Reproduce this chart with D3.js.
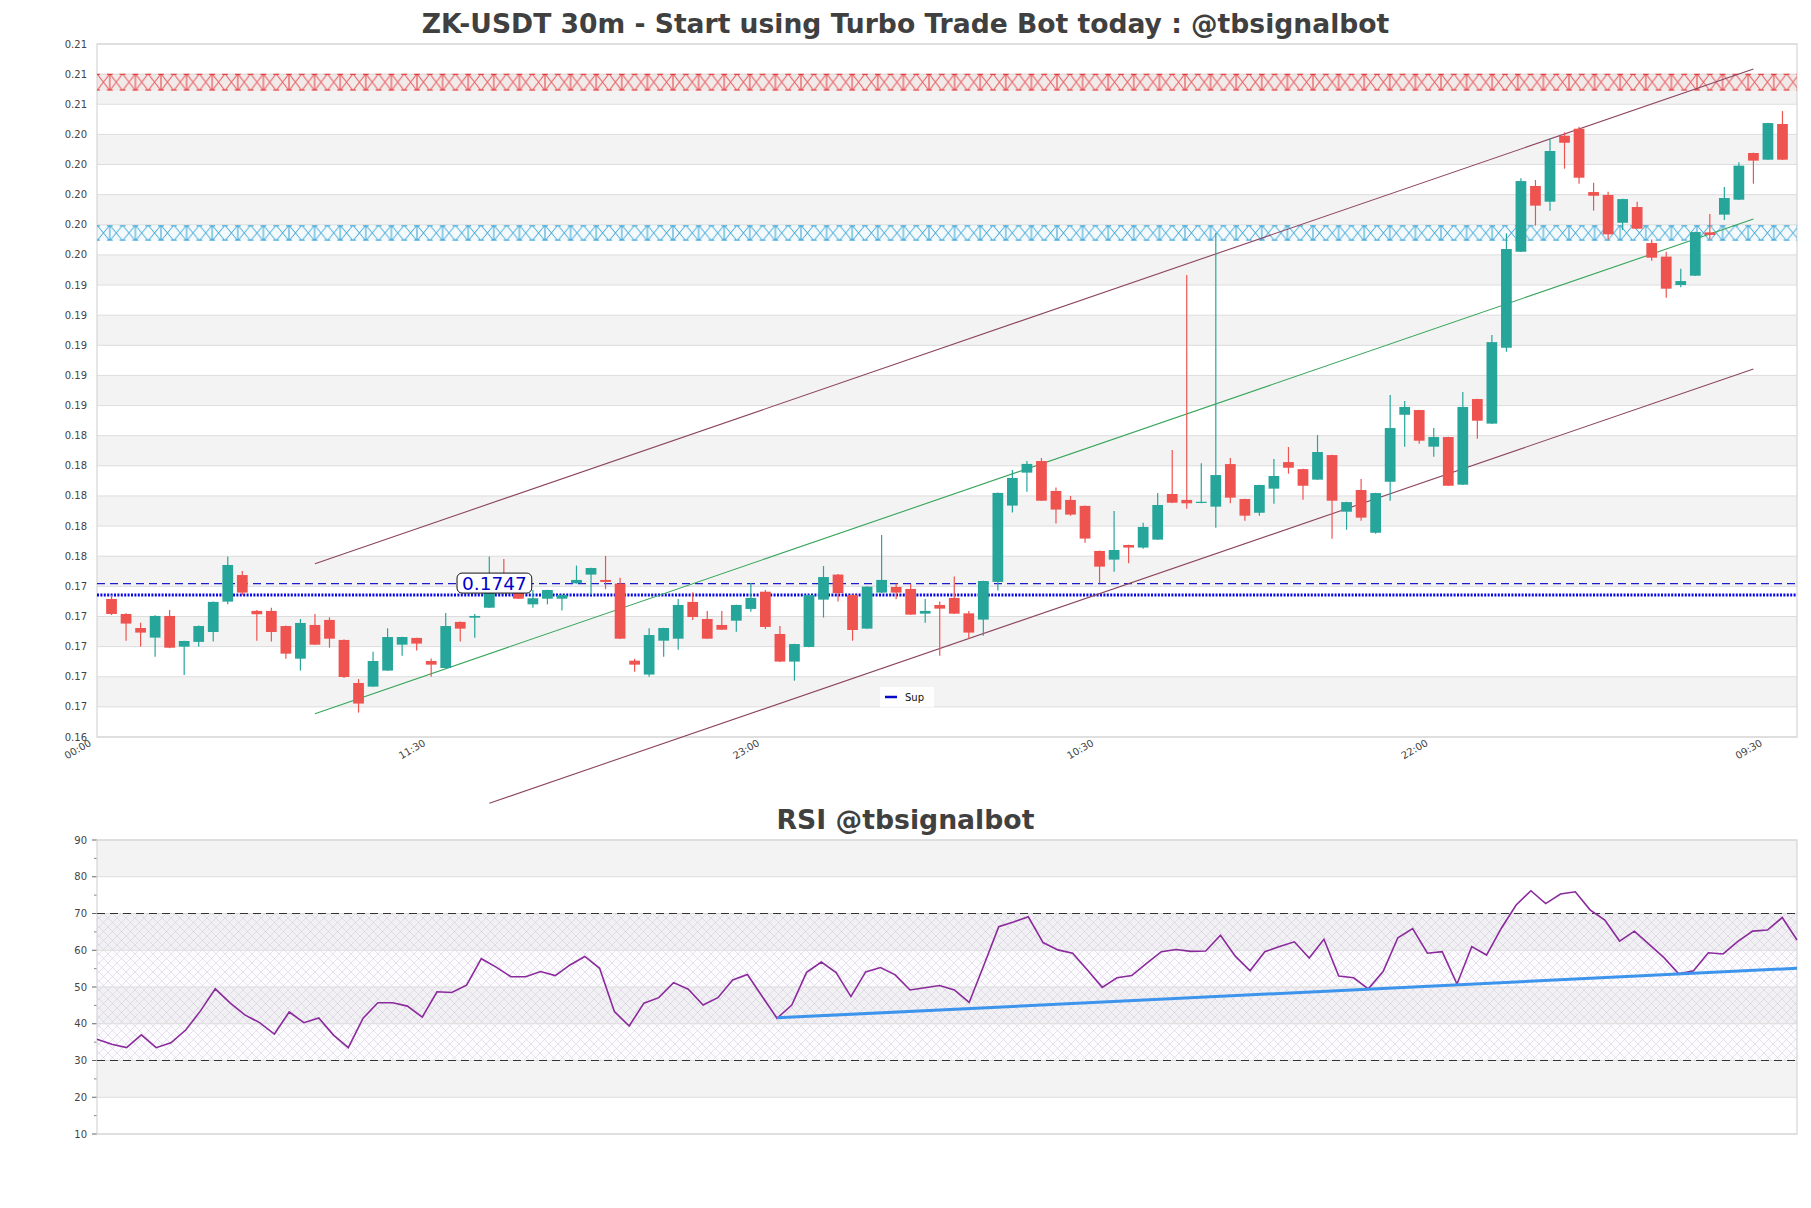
<!DOCTYPE html>
<html><head><meta charset="utf-8">
<script src="https://cdn.jsdelivr.net/npm/d3@7"></script>
<style>body{margin:0;background:#fff} svg{display:block} text{font-family:"DejaVu Sans",sans-serif}</style>
</head><body><svg id="c" width="1811" height="1208"></svg>
<script>
// ---------- DATA ----------
const titleText = "ZK-USDT 30m - Start using Turbo Trade Bot today : @tbsignalbot";
const rsiTitleText = "RSI @tbsignalbot";
const xTickLabels = ["00:00","11:30","23:00","10:30","22:00","09:30"];
const xTickIndex = [-1,22,45,68,91,114];
const yTickLabels = ["0.16","0.17","0.17","0.17","0.17","0.17","0.18","0.18","0.18","0.18","0.18",
  "0.19","0.19","0.19","0.19","0.19","0.20","0.20","0.20","0.20","0.20","0.21","0.21","0.21"];
const yMin = 0.16465, yMax = 0.21005;
const rsiTickLabels = [10,20,30,40,50,60,70,80,90];

const openP = [0.17369,0.17271,0.17179,0.17116,0.17258,0.17057,0.17088,0.17153,0.17352,0.17526,
0.17291,0.17291,0.17192,0.16978,0.17199,0.17232,0.17101,0.16819,0.16795,0.16900,
0.17070,0.17114,0.16963,0.16917,0.17219,0.17247,0.17312,0.17446,0.17428,0.17334,
0.17371,0.17371,0.17472,0.17529,0.17494,0.17470,0.16965,0.16874,0.17096,0.17109,
0.17350,0.17238,0.17199,0.17227,0.17304,0.17417,0.17140,0.16959,0.17055,0.17365,
0.17529,0.17395,0.17175,0.17411,0.17448,0.17435,0.17273,0.17330,0.17376,0.17275,
0.17234,0.17481,0.17981,0.18197,0.18273,0.18077,0.18018,0.17979,0.17684,0.17627,
0.17723,0.17706,0.17758,0.18057,0.18018,0.18000,0.17974,0.18253,0.18024,0.17934,
0.18092,0.18266,0.18220,0.18151,0.18312,0.17941,0.18083,0.17803,0.18137,0.18576,
0.18607,0.18367,0.18430,0.18118,0.18679,0.18518,0.19015,0.19644,0.20075,0.19972,
0.20404,0.20450,0.20035,0.20016,0.19834,0.19937,0.19701,0.19612,0.19426,0.19487,
0.19771,0.19887,0.19985,0.20291,0.20247,0.20481];
const highP = [0.17395,0.17275,0.17214,0.17262,0.17297,0.17096,0.17195,0.17352,0.17647,0.17553,
0.17297,0.17312,0.17195,0.17238,0.17271,0.17249,0.17103,0.16845,0.17024,0.17177,
0.17122,0.17116,0.16980,0.17278,0.17221,0.17271,0.17647,0.17631,0.17450,0.17428,
0.17430,0.17397,0.17588,0.17574,0.17651,0.17509,0.16978,0.17177,0.17181,0.17369,
0.17411,0.17291,0.17291,0.17332,0.17474,0.17428,0.17192,0.17076,0.17397,0.17585,
0.17533,0.17397,0.17452,0.17789,0.17470,0.17468,0.17369,0.17352,0.17516,0.17291,
0.17489,0.18066,0.18214,0.18273,0.18293,0.18099,0.18044,0.17981,0.17686,0.17946,
0.17725,0.17869,0.18064,0.18345,0.19492,0.18258,0.19767,0.18293,0.18026,0.18118,
0.18286,0.18365,0.18222,0.18443,0.18314,0.18006,0.18155,0.18065,0.18705,0.18666,
0.18609,0.18489,0.18432,0.18725,0.18681,0.19098,0.19764,0.20125,0.20114,0.20387,
0.20426,0.20463,0.20096,0.20037,0.19991,0.19972,0.19725,0.19644,0.19533,0.19775,
0.19891,0.20068,0.20230,0.20293,0.20489,0.20566];
const lowP = [0.17264,0.17096,0.17057,0.16991,0.17046,0.16871,0.17057,0.17090,0.17334,0.17395,
0.17096,0.17090,0.16978,0.16900,0.17068,0.17050,0.16852,0.16625,0.16793,0.16898,
0.16998,0.17031,0.16860,0.16915,0.17090,0.17116,0.17310,0.17420,0.17369,0.17312,
0.17334,0.17293,0.17470,0.17395,0.17433,0.17107,0.16893,0.16860,0.16991,0.17037,
0.17232,0.17107,0.17166,0.17155,0.17286,0.17173,0.16957,0.16834,0.17053,0.17247,
0.17352,0.17096,0.17173,0.17409,0.17367,0.17265,0.17214,0.16998,0.17271,0.17109,
0.17129,0.17424,0.17935,0.18072,0.18011,0.17863,0.17915,0.17738,0.17472,0.17548,
0.17603,0.17699,0.17756,0.17998,0.17961,0.17996,0.17836,0.17996,0.17882,0.17915,
0.17993,0.18190,0.18020,0.18149,0.17764,0.17823,0.17882,0.17797,0.18013,0.18367,
0.18386,0.18301,0.18109,0.18116,0.18419,0.18516,0.18989,0.19642,0.19815,0.19913,
0.20188,0.20090,0.19913,0.19725,0.19786,0.19793,0.19585,0.19343,0.19411,0.19485,
0.19725,0.19852,0.19983,0.20090,0.20245,0.20245];
const closeP = [0.17271,0.17208,0.17149,0.17258,0.17050,0.17094,0.17192,0.17350,0.17592,0.17411,
0.17269,0.17153,0.17011,0.17212,0.17070,0.17109,0.16858,0.16684,0.16963,0.17120,
0.17120,0.17077,0.16939,0.17192,0.17175,0.17258,0.17428,0.17428,0.17371,0.17374,
0.17428,0.17395,0.17494,0.17572,0.17481,0.17109,0.16939,0.17133,0.17179,0.17330,
0.17251,0.17109,0.17168,0.17330,0.17376,0.17186,0.16959,0.17074,0.17395,0.17513,
0.17408,0.17166,0.17450,0.17494,0.17411,0.17267,0.17291,0.17306,0.17273,0.17149,
0.17487,0.18064,0.18162,0.18254,0.18013,0.17955,0.17922,0.17765,0.17581,0.17690,
0.17706,0.17841,0.17985,0.18000,0.17996,0.18006,0.18181,0.18033,0.17915,0.18116,
0.18175,0.18229,0.18111,0.18332,0.18013,0.18004,0.17902,0.18063,0.18489,0.18627,
0.18406,0.18430,0.18111,0.18627,0.18537,0.19052,0.19662,0.20107,0.19946,0.20304,
0.20358,0.20129,0.20011,0.19758,0.19989,0.19795,0.19605,0.19402,0.19452,0.19773,
0.19754,0.19996,0.20208,0.20241,0.20487,0.20247];

const rsiValues = [35.8,34.4,33.5,37.0,33.5,34.8,38.3,43.5,49.5,45.7,
42.4,40.3,37.2,43.2,40.3,41.6,36.9,33.5,41.5,45.7,
45.7,44.8,41.8,48.7,48.5,50.5,57.7,55.4,52.8,52.8,
54.2,53.1,56.0,58.3,55.1,43.3,39.4,45.6,47.1,51.2,
49.4,45.1,47.1,51.9,53.4,47.4,41.5,45.1,54.0,56.8,
53.9,47.4,54.1,55.3,53.3,49.2,49.8,50.4,49.2,45.8,
56.0,66.4,67.7,69.1,62.1,60.1,59.2,54.6,49.9,52.5,
53.1,56.4,59.6,60.2,59.7,59.8,64.1,58.4,54.4,59.6,
61.0,62.3,57.9,63.0,53.0,52.5,49.5,54.2,63.4,65.9,
59.2,59.6,50.8,61.0,58.7,66.0,72.3,76.2,72.7,75.3,
75.9,71.0,68.2,62.5,65.2,61.6,58.0,53.6,54.4,59.3,
59.0,62.4,65.2,65.5,68.9,62.8];

const resistanceZone = [0.2070, 0.2081];
const supportZone = [0.19717, 0.19817];
const supDashed = 0.1747;
const supDotted = 0.17395;
const supLabelIndex = 26.35;
const legendLabels = ["Sup"];
const channelUpper = [[14, 0.17600],[113, 0.20841]];
const channelMid   = [[14, 0.16618],[113, 0.19858]];
const channelLower = [[26, 0.16031],[113, 0.18876]];
const rsiTrend = [[46, 41.6],[115, 55.1]];
const rsiLevels = [30, 70];

// ---------- DRAW ----------
const svg = d3.select("#c");
svg.append("rect").attr("width",1811).attr("height",1208).attr("fill","#fff");
const n = openP.length;
const M = {l:97, r:1797, t:44, b:737};
const R = {l:97, r:1797, t:840, b:1134};
const x = d3.scaleLinear().domain([-1, n]).range([M.l, M.r]);
const y = d3.scaleLinear().domain([yMin, yMax]).range([M.b, M.t]);
const xr = d3.scaleLinear().domain([0, n-1]).range([R.l, R.r]);
const yr = d3.scaleLinear().domain([10, 90]).range([R.b, R.t]);

const defs = svg.append("defs");
function zonePattern(id, color, top, h){
  const w = 25.6, hw = w/2;
  const p = defs.append("pattern").attr("id",id).attr("patternUnits","userSpaceOnUse")
    .attr("x",M.l).attr("y",top).attr("width",w).attr("height",h);
  p.append("rect").attr("width",w).attr("height",h).attr("fill",color).attr("fill-opacity",0.05);
  p.append("path").attr("d",`M0,0L${hw},${h}M${hw},0L0,${h}M${hw},0L${w},${h}M${w},0L${hw},${h}`)
    .attr("stroke",color).attr("stroke-width",0.9).attr("fill","none");
  p.append("path").attr("d",`M${hw},0V${h}M${hw-3},0.5H${hw+3}M${hw-3},${h-0.5}H${hw+3}M0,0.5H3M${w-3},0.5H${w}M0,${h-0.5}H3M${w-3},${h-0.5}H${w}`)
    .attr("stroke",color).attr("stroke-width",0.9).attr("fill","none");
}
const rp = defs.append("pattern").attr("id","rsiHatch").attr("patternUnits","userSpaceOnUse")
  .attr("width",9).attr("height",9);
rp.append("path").attr("d","M0,0L9,9M9,0L0,9").attr("stroke","#c8b6d6").attr("stroke-width",0.6).attr("stroke-opacity",0.7);

// main bands
const yTicks = d3.range(yTickLabels.length).map(i => yMin + i*(yMax-yMin)/(yTickLabels.length-1));
const gMain = svg.append("g");
for (let k=0;k<yTicks.length-1;k++){
  if (k%2===1) gMain.append("rect").attr("x",M.l).attr("width",M.r-M.l)
    .attr("y",y(yTicks[k+1])).attr("height",y(yTicks[k])-y(yTicks[k+1])).attr("fill","#f3f3f3");
}
yTicks.forEach((v,i)=>{
  gMain.append("line").attr("x1",M.l).attr("x2",M.r).attr("y1",y(v)).attr("y2",y(v))
    .attr("stroke","#dddddd").attr("stroke-width",1);
  gMain.append("text").attr("x",M.l-10).attr("y",y(v)).attr("dy","0.35em").attr("text-anchor","end")
    .attr("font-size",10).attr("fill","#444").text(yTickLabels[i]);
});
gMain.append("rect").attr("x",M.l).attr("y",M.t).attr("width",M.r-M.l).attr("height",M.b-M.t)
  .attr("fill","none").attr("stroke","#d6d6d6").attr("stroke-width",1.2);

// zones
[[resistanceZone,"#e3262a","zr"],[supportZone,"#1e96cf","zs"]].forEach(([z,c,id])=>{
  const top = y(z[1]), h = y(z[0]) - y(z[1]);
  zonePattern(id,c,top,h);
  gMain.append("rect").attr("x",M.l).attr("width",M.r-M.l).attr("y",top).attr("height",h)
    .attr("fill",`url(#${id})`);
});

// x tick labels
xTickIndex.forEach((ix,i)=>{
  gMain.append("text").attr("text-anchor","end").attr("font-size",10).attr("fill","#444")
    .attr("transform",`translate(${x(ix)-5},${M.b+8}) rotate(-30)`).text(xTickLabels[i]);
});

// support lines
gMain.append("line").attr("x1",M.l).attr("x2",M.r).attr("y1",y(supDashed)).attr("y2",y(supDashed))
  .attr("stroke","#1c1ccc").attr("stroke-width",1.4).attr("stroke-dasharray","8,5");
gMain.append("line").attr("x1",M.l).attr("x2",M.r).attr("y1",y(supDotted)).attr("y2",y(supDotted))
  .attr("stroke","#0808e6").attr("stroke-width",3).attr("stroke-dasharray","2,1.4");

// channel lines
const ln = d3.line().x(d=>x(d[0])).y(d=>y(d[1]));
gMain.append("path").attr("d",ln(channelUpper)).attr("stroke","#8c4561").attr("stroke-width",1.1).attr("fill","none");
gMain.append("path").attr("d",ln(channelLower)).attr("stroke","#8c4561").attr("stroke-width",1.1).attr("fill","none");
gMain.append("path").attr("d",ln(channelMid)).attr("stroke","#36a55a").attr("stroke-width",1.1).attr("fill","none");

// candles
const up="#26a69a", dn="#ef5350";
const bw = (x(1)-x(0))*0.74;
const gc = gMain.append("g");
d3.range(n).forEach(i=>{
  const c = closeP[i]>=openP[i]?up:dn;
  gc.append("line").attr("x1",x(i)).attr("x2",x(i)).attr("y1",y(highP[i])).attr("y2",y(lowP[i]))
    .attr("stroke",c).attr("stroke-width",1.2);
  const t = y(Math.max(openP[i],closeP[i])), b = y(Math.min(openP[i],closeP[i]));
  gc.append("rect").attr("x",x(i)-bw/2).attr("width",bw).attr("y",t).attr("height",Math.max(b-t,1.2)).attr("fill",c);
});

// sup label
const lblG = gMain.append("g");
const lt = lblG.append("text").attr("x",x(supLabelIndex)).attr("y",y(supDashed)).attr("dy","0.36em")
  .attr("text-anchor","middle").attr("font-size",18.5).attr("fill","#0000cc").text(supDashed.toFixed(4));
const bb = lt.node().getBBox();
lblG.insert("rect","text").attr("x",bb.x-5).attr("y",y(supDashed)-10.5).attr("width",bb.width+10).attr("height",20)
  .attr("rx",5).attr("fill","#fff").attr("stroke","#111").attr("stroke-width",1);

// legend
const lg = gMain.append("g");
lg.append("rect").attr("x",880).attr("y",687).attr("width",54).attr("height",20).attr("fill","#fff").attr("fill-opacity",0.85);
lg.append("line").attr("x1",885).attr("x2",897).attr("y1",697).attr("y2",697).attr("stroke","#0808c8").attr("stroke-width",2.5);
lg.append("text").attr("x",905).attr("y",701).attr("font-size",10).attr("fill","#111").text(legendLabels[0]);

// titles
function fitTitle(txt, cx, baseline, targetW){
  const t = svg.append("text").attr("x",cx).attr("y",baseline).attr("text-anchor","middle")
    .attr("font-weight","bold").attr("font-size",28).attr("fill","#404040").text(txt);
  const w = t.node().getComputedTextLength();
  t.attr("font-size", 28*targetW/w);
}
fitTitle(titleText, 905.5, 32.5, 968);
fitTitle(rsiTitleText, 905.5, 829, 258);

// ---------- RSI ----------
const gR = svg.append("g");
for (let v=10; v<90; v+=10){
  const k=(v-10)/10;
  if (k%2===1) gR.append("rect").attr("x",R.l).attr("width",R.r-R.l).attr("y",yr(v+10)).attr("height",yr(v)-yr(v+10)).attr("fill","#f3f3f3");
}
gR.append("rect").attr("x",R.l).attr("width",R.r-R.l).attr("y",yr(rsiLevels[1])).attr("height",yr(rsiLevels[0])-yr(rsiLevels[1]))
  .attr("fill","url(#rsiHatch)");
gR.append("rect").attr("x",R.l).attr("width",R.r-R.l).attr("y",yr(rsiLevels[1])).attr("height",yr(rsiLevels[0])-yr(rsiLevels[1]))
  .attr("fill","#e8dcef").attr("fill-opacity",0.12);
rsiTickLabels.forEach(v=>{
  gR.append("line").attr("x1",R.l).attr("x2",R.r).attr("y1",yr(v)).attr("y2",yr(v)).attr("stroke","#dddddd");
  gR.append("line").attr("x1",R.l-5).attr("x2",R.l).attr("y1",yr(v)).attr("y2",yr(v)).attr("stroke","#666");
  gR.append("text").attr("x",R.l-10).attr("y",yr(v)).attr("dy","0.35em").attr("text-anchor","end")
    .attr("font-size",10).attr("fill","#444").text(v);
  if (v<90) gR.append("line").attr("x1",R.l-3).attr("x2",R.l).attr("y1",yr(v+5)).attr("y2",yr(v+5)).attr("stroke","#888");
});
gR.append("rect").attr("x",R.l).attr("y",R.t).attr("width",R.r-R.l).attr("height",R.b-R.t)
  .attr("fill","none").attr("stroke","#d6d6d6").attr("stroke-width",1.2);
rsiLevels.forEach(v=>{
  gR.append("line").attr("x1",R.l).attr("x2",R.r).attr("y1",yr(v)).attr("y2",yr(v))
    .attr("stroke","#333").attr("stroke-width",1.1).attr("stroke-dasharray","8,5");
});
gR.append("path").attr("d",d3.line().x((d,i)=>xr(i)).y(d=>yr(d))(rsiValues))
  .attr("fill","none").attr("stroke","#8a2a9c").attr("stroke-width",1.6);
gR.append("path").attr("d",d3.line().x(d=>xr(d[0])).y(d=>yr(d[1]))(rsiTrend))
  .attr("fill","none").attr("stroke","#3d94ec").attr("stroke-width",3);
</script></body></html>
